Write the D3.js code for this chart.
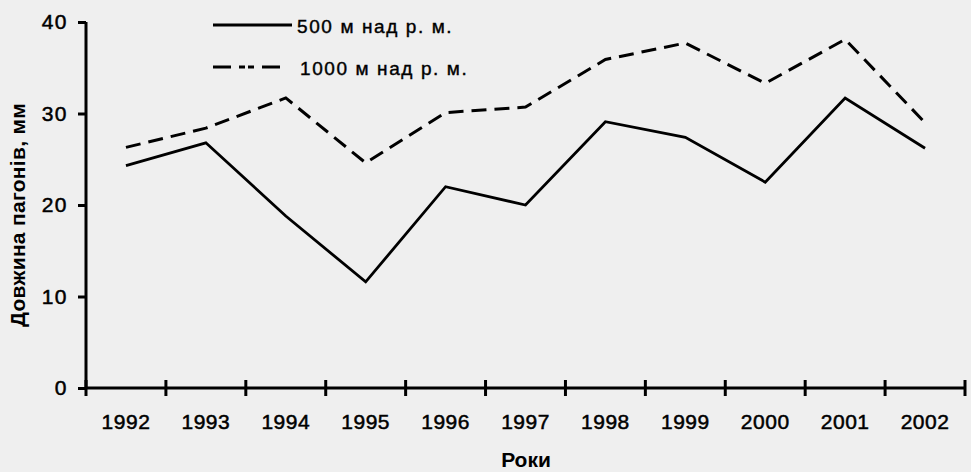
<!DOCTYPE html>
<html>
<head>
<meta charset="utf-8">
<script src="https://cdn.jsdelivr.net/npm/d3@7"></script>
<style>
  body { margin: 0; background: #efefef; }
  svg { display: block; font-family: 'Liberation Sans', Arial, sans-serif; }
</style>
</head>
<body>
<svg id="chart"></svg>
<script>
const years = ['1992', '1993', '1994', '1995', '1996', '1997', '1998', '1999', '2000', '2001', '2002'];
const alt500 = [24.3, 26.8, 18.8, 11.6, 22.0, 20.0, 29.1, 27.4, 22.5, 31.7, 26.2];
const alt1000 = [26.3, 28.4, 31.7, 24.6, 30.1, 30.7, 35.9, 37.7, 33.3, 38.1, 29.0];
const yTicks = [0, 10, 20, 30, 40];
const seriesNames = ['500 м над р. м.', '1000 м над р. м.'];

const width = 971;
const height = 472;
const margin = { top: 22, right: 6, bottom: 84, left: 86 };
const FONT = "'Liberation Sans', Arial, sans-serif";

const svg = d3.select('#chart')
  .attr('width', width)
  .attr('height', height);

svg.append('rect')
  .attr('width', width)
  .attr('height', height)
  .attr('fill', '#efefef');

const x = d3.scaleBand()
  .domain(years)
  .range([margin.left, width - margin.right])
  .padding(0);

const y = d3.scaleLinear()
  .domain([0, 40])
  .range([height - margin.bottom, margin.top]);

// heavy-ish text like the scanned original
function inked(sel, size) {
  sel.attr('font-size', size)
    .attr('font-family', FONT)
    .attr('fill', '#000')
    .attr('stroke', '#000')
    .attr('stroke-width', 0.5);
}

// y axis
const yAxis = svg.append('g')
  .attr('transform', `translate(${margin.left},0)`)
  .call(d3.axisLeft(y).tickValues(yTicks).tickSize(8).tickPadding(10));
yAxis.select('.domain').attr('stroke', '#000').attr('stroke-width', 3)
  .attr('d', `M0,${y(40)}V${y(0)}`);
yAxis.selectAll('.tick line').attr('stroke', '#000').attr('stroke-width', 3);
yAxis.selectAll('.tick text')
  .call(inked, 21)
  .attr('letter-spacing', 1.5);

// x axis: labels in band centres, ticks at band edges
const xAxis = svg.append('g')
  .attr('transform', `translate(0,${y(0)})`)
  .call(d3.axisBottom(x).tickSize(0).tickPadding(26));
xAxis.select('.domain').attr('stroke', '#000').attr('stroke-width', 3)
  .attr('d', `M${x.range()[0]},0H${x.range()[1]}`);
xAxis.selectAll('.tick text')
  .call(inked, 21)
  .attr('letter-spacing', 0.5);

const edges = years.map(d => x(d)).concat([x.range()[1]]);
xAxis.selectAll('.edge')
  .data(edges)
  .enter()
  .append('line')
  .attr('class', 'edge')
  .attr('x1', d => d)
  .attr('x2', d => d)
  .attr('y1', -8)
  .attr('y2', 8)
  .attr('stroke', '#000')
  .attr('stroke-width', 3);

// axis titles
svg.append('text')
  .attr('transform', 'translate(25,215) rotate(-90)')
  .attr('text-anchor', 'middle')
  .attr('font-size', 21)
  .attr('font-weight', 'bold')
  .attr('letter-spacing', 0.3)
  .text('Довжина пагонів, мм');

svg.append('text')
  .attr('x', 526)
  .attr('y', 467)
  .attr('text-anchor', 'middle')
  .attr('font-size', 21)
  .attr('font-weight', 'bold')
  .text('Роки');

// lines
const line = d3.line()
  .x((d, i) => x(years[i]) + x.bandwidth() / 2)
  .y(d => y(d));

const dash = '15,8';

svg.append('path')
  .datum(alt1000)
  .attr('d', line)
  .attr('fill', 'none')
  .attr('stroke', '#000')
  .attr('stroke-width', 3)
  .attr('stroke-dasharray', dash);

svg.append('path')
  .datum(alt500)
  .attr('d', line)
  .attr('fill', 'none')
  .attr('stroke', '#000')
  .attr('stroke-width', 2.8);

// legend
const legendRows = svg.append('g').selectAll('g')
  .data(seriesNames)
  .enter()
  .append('g')
  .attr('transform', (d, i) => `translate(213,${25 + i * 42})`);

legendRows.append('line')
  .attr('x1', 0)
  .attr('x2', (d, i) => (i === 0 ? 79 : 70))
  .attr('y1', 0)
  .attr('y2', 0)
  .attr('stroke', '#000')
  .attr('stroke-width', 3)
  .attr('stroke-dasharray', (d, i) => (i === 0 ? null : '18,8,6,3,6,8'));

legendRows.append('text')
  .attr('x', (d, i) => (i === 0 ? 84 : 87))
  .attr('y', 8)
  .call(inked, 19)
  .attr('stroke-width', 0.4)
  .attr('letter-spacing', 1.6)
  .text(d => d);
</script>
</body>
</html>
